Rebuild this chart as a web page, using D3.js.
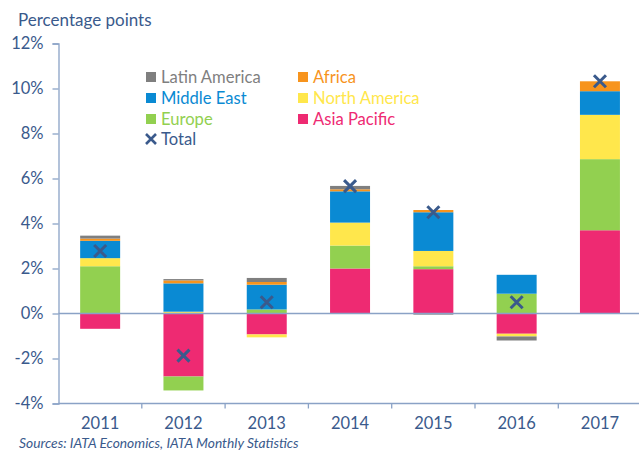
<!DOCTYPE html>
<html>
<head>
<meta charset="utf-8">
<script src="https://cdn.jsdelivr.net/npm/d3@7"></script>
<style>
  html, body { margin: 0; padding: 0; background: #fff; }
  svg { display: block; }
  text { font-family: Lato, "Open Sans", sans-serif; }
</style>
</head>
<body>
<svg id="chart" width="639" height="451"></svg>
<script>
const years = ["2011", "2012", "2013", "2014", "2015", "2016", "2017"];
const asiaPacific  = [-0.68, -2.80, -0.93, 2.00, 1.97, -0.90, 3.70];
const europe       = [ 2.10, -0.62,  0.18, 1.02, 0.13,  0.88, 3.16];
const northAmerica = [ 0.36,  0.08, -0.13, 1.02, 0.68, -0.12, 1.97];
const middleEast   = [ 0.77,  1.26,  1.10, 1.39, 1.72,  0.84, 1.05];
const africa       = [ 0.10,  0.13,  0.12, 0.09, 0.10,  0.00, 0.44];
const latinAmerica = [ 0.13,  0.06,  0.18, 0.15, -0.05, -0.18, 0.00];
const total        = [ 2.78, -1.87,  0.50, 5.66, 4.50,  0.50, 10.32];
const yTicks = [-4, -2, 0, 2, 4, 6, 8, 10, 12];

const seriesNames = ["Asia Pacific", "Europe", "North America", "Middle East", "Africa", "Latin America"];
const seriesData = [asiaPacific, europe, northAmerica, middleEast, africa, latinAmerica];
const colors = {
  "Asia Pacific": "#ee2a72",
  "Europe": "#92d050",
  "North America": "#ffe74c",
  "Middle East": "#0a8ad3",
  "Africa": "#f7941d",
  "Latin America": "#7f7f7f"
};
const textColor = "#3a5a8c";
const axisColor = "#8aa2c6";
const markColor = "#3a5a8c";

const rows = years.map((yr, i) => {
  const r = { year: yr };
  seriesNames.forEach((s, k) => r[s] = seriesData[k][i]);
  return r;
});

const svg = d3.select("#chart");
const x = d3.scaleBand().domain(years).range([58.5, 641.6]).paddingInner(0.52).paddingOuter(0.26);
const y = d3.scaleLinear().domain([-4, 12]).range([403.5, 43.5]);

const stack = d3.stack().keys(seriesNames).order(d3.stackOrderNone).offset(d3.stackOffsetDiverging);
const stacked = stack(rows);

// bars
svg.append("g").selectAll("g").data(stacked).join("g")
  .attr("fill", d => colors[d.key])
  .selectAll("rect").data(d => d).join("rect")
  .attr("x", d => x(d.data.year))
  .attr("width", x.bandwidth())
  .attr("y", d => y(Math.max(d[0], d[1])))
  .attr("height", d => Math.abs(y(d[0]) - y(d[1])));

// left axis
const yAxis = svg.append("g").attr("transform", "translate(58.5,0)")
  .call(d3.axisLeft(y).tickValues(yTicks).tickSize(6).tickPadding(9).tickFormat(d => d + "%"));
yAxis.select(".domain").attr("stroke", axisColor).attr("stroke-width", 1.3);
yAxis.selectAll(".tick line").attr("stroke", axisColor).attr("stroke-width", 1.3);
yAxis.selectAll(".tick text").attr("fill", textColor).attr("font-size", 16.5);

// zero line and bottom line
svg.append("line").attr("x1", 58.5).attr("x2", 639).attr("y1", y(0)).attr("y2", y(0))
  .attr("stroke", axisColor).attr("stroke-width", 1.3);
svg.append("line").attr("x1", 58.5).attr("x2", 639).attr("y1", y(-4)).attr("y2", y(-4))
  .attr("stroke", axisColor).attr("stroke-width", 1.3);

// boundary ticks on bottom axis
const step = x.step();
svg.append("g").selectAll("line").data(years.slice(1)).join("line")
  .attr("x1", d => x(d) - step * x.paddingInner() / 2)
  .attr("x2", d => x(d) - step * x.paddingInner() / 2)
  .attr("y1", y(-4)).attr("y2", y(-4) + 5)
  .attr("stroke", axisColor).attr("stroke-width", 1.3);

// year labels
const xAxis = svg.append("g").attr("transform", `translate(0,${y(-4)})`)
  .call(d3.axisBottom(x).tickSize(0).tickPadding(14));
xAxis.select(".domain").remove();
xAxis.selectAll(".tick text").attr("fill", textColor).attr("font-size", 16.5);

// total markers
const s = 6;
svg.append("g").selectAll("path").data(years).join("path")
  .attr("transform", (d, i) => `translate(${x(d) + x.bandwidth() / 2},${y(total[i])})`)
  .attr("d", `M${-s},${-s}L${s},${s}M${-s},${s}L${s},${-s}`)
  .attr("stroke", markColor).attr("stroke-width", 3).attr("fill", "none");

// title
svg.append("text").attr("x", 18).attr("y", 26).attr("fill", textColor)
  .attr("font-size", 17).text("Percentage points");

// sources
svg.append("text").attr("x", 19).attr("y", 448).attr("fill", textColor)
  .attr("font-size", 13.8).attr("font-style", "italic")
  .text("Sources: IATA Economics, IATA Monthly Statistics");

// legend
const legendItems = [
  { name: "Latin America", col: 0, row: 0 },
  { name: "Africa", col: 1, row: 0 },
  { name: "Middle East", col: 0, row: 1 },
  { name: "North America", col: 1, row: 1 },
  { name: "Europe", col: 0, row: 2 },
  { name: "Asia Pacific", col: 1, row: 2 }
];
const colX = [146, 298];
const rowY = [77, 98, 119, 139];
const lg = svg.append("g");
legendItems.forEach(it => {
  lg.append("rect").attr("x", colX[it.col]).attr("y", rowY[it.row] - 5)
    .attr("width", 10).attr("height", 10).attr("fill", colors[it.name]);
  lg.append("text").attr("x", colX[it.col] + 15).attr("y", rowY[it.row] + 6)
    .attr("fill", colors[it.name]).attr("font-size", 16.6).text(it.name);
});
lg.append("path")
  .attr("transform", `translate(${colX[0] + 5},${rowY[3]})`)
  .attr("d", "M-5,-5L5,5M-5,5L5,-5")
  .attr("stroke", markColor).attr("stroke-width", 2.6).attr("fill", "none");
lg.append("text").attr("x", colX[0] + 15).attr("y", rowY[3] + 6)
  .attr("fill", textColor).attr("font-size", 16.6).text("Total");
</script>
</body>
</html>
